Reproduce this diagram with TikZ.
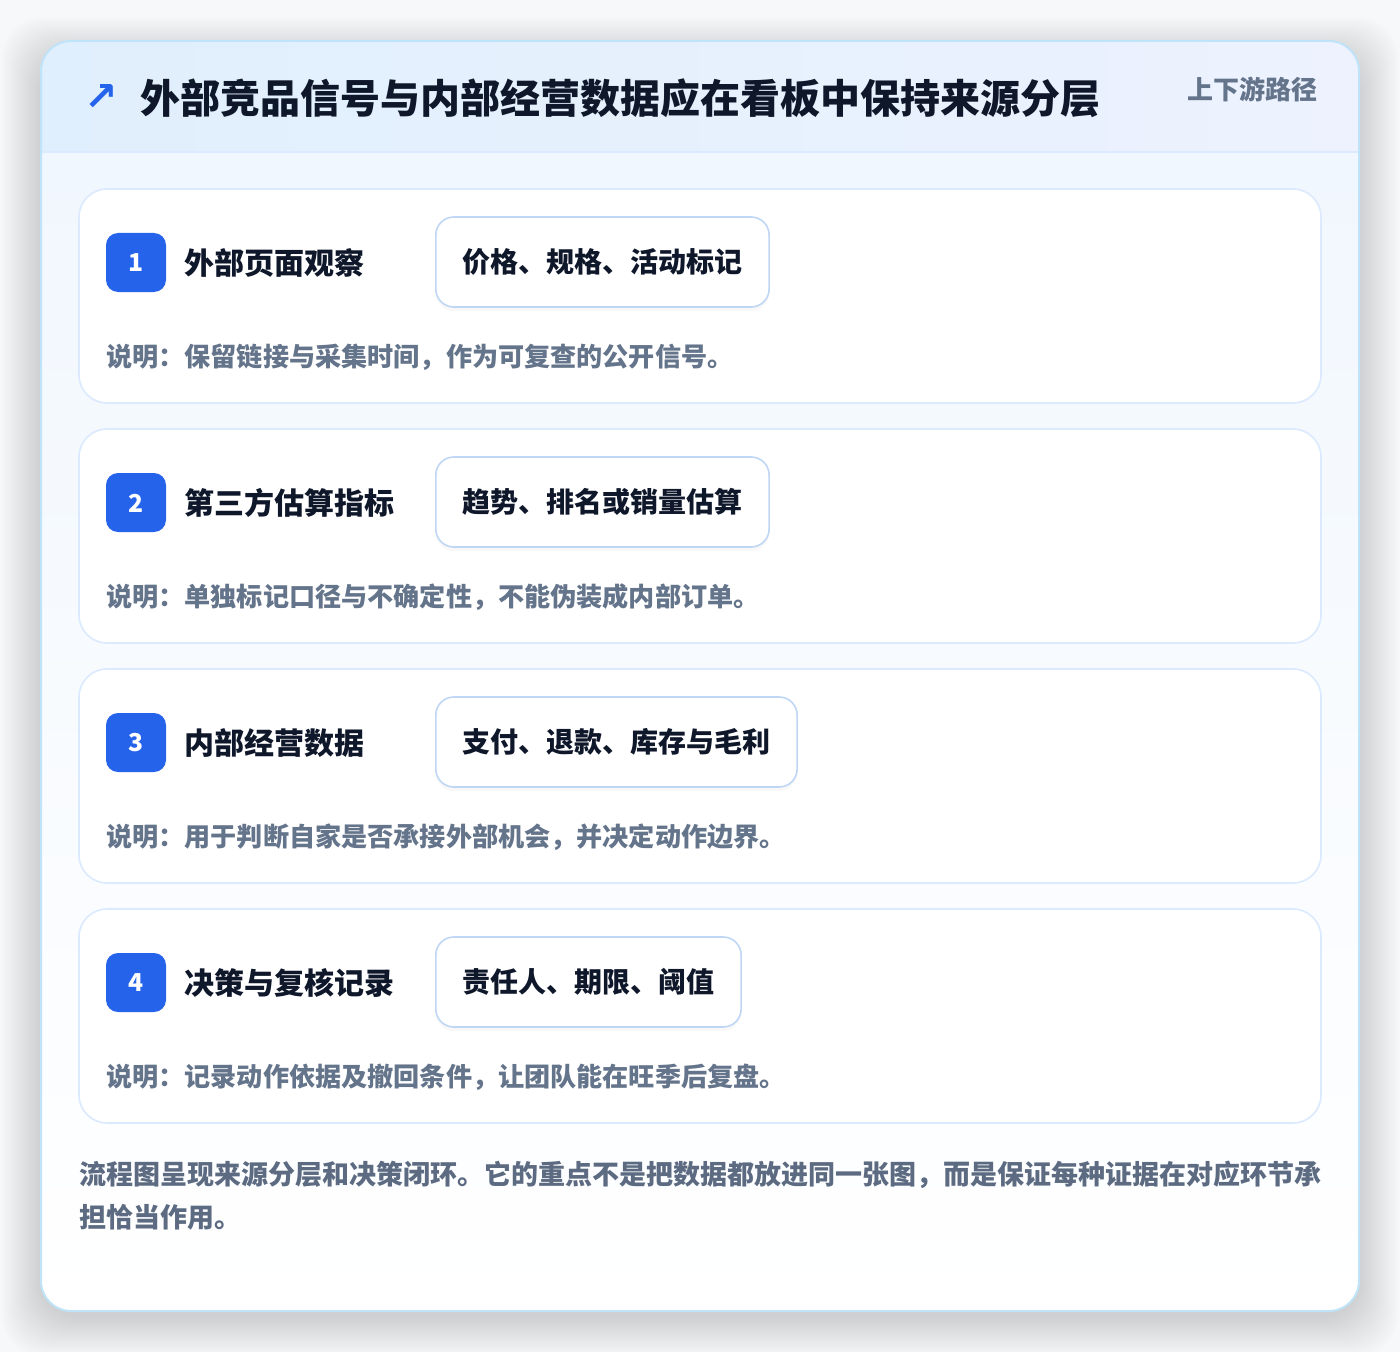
\documentclass[tikz,border=0pt]{standalone}
\usepackage{fontspec}
\setmainfont{Noto Sans CJK SC}
\newfontfamily\symfont{DejaVu Sans}
\usetikzlibrary{shadows}
\definecolor{pagebg}{HTML}{F7F8FA}
\definecolor{outerline}{HTML}{BFE3F8}
\definecolor{innerline}{HTML}{DBEAFE}
\definecolor{tagline}{HTML}{BFD7F5}
\definecolor{badgeblue}{HTML}{2563EB}
\definecolor{ink}{HTML}{0F172A}
\definecolor{muted}{HTML}{64748B}
\definecolor{hdrL}{HTML}{E0EFFD}
\definecolor{hdrR}{HTML}{EDF2FE}
\definecolor{bodytop}{HTML}{F1F7FE}
\begin{document}
\begin{tikzpicture}[x=0.75pt,y=-0.75pt,
  cardbox/.style={fill=white,draw=innerline,line width=1.2pt,rounded corners=21pt},
  badgebox/.style={fill=badgeblue,rounded corners=9pt},
  badgenum/.style={text=white,font=\fontsize{18.5pt}{20pt}\selectfont\bfseries,inner sep=0pt},
  steptitle/.style={anchor=west,text=ink,font=\fontsize{22.5pt}{26pt}\selectfont\bfseries,inner sep=0pt},
  tagbox/.style={anchor=west,draw=tagline,line width=1.2pt,fill=white,rounded corners=13.5pt,
     minimum height=67.5pt,inner xsep=20pt,text=ink,font=\fontsize{21pt}{24pt}\selectfont\bfseries,
     drop shadow={opacity=0.05,shadow xshift=0pt,shadow yshift=-3pt}},
  desctext/.style={anchor=west,text=muted,font=\fontsize{19.6pt}{22pt}\selectfont\bfseries,inner sep=0pt},
  foottext/.style={anchor=west,text=muted!90!ink,font=\fontsize{20.25pt}{24pt}\selectfont\bfseries,inner sep=0pt}
]
\fill[pagebg] (0,0) rectangle (1400,1352);
\useasboundingbox (0,0) rectangle (1400,1352);
% soft shadow of outer card
\foreach \i in {1,...,40}{
  \fill[black,opacity=0.0035,rounded corners=30pt] (41-\i,41-\i+16) rectangle (1359+\i,1311+\i+6);
}
% outer card
\fill[white,rounded corners=22.5pt] (41,41) rectangle (1359,1311);
\begin{scope}
  \clip[rounded corners=22.5pt] (41,41) rectangle (1359,1311);
  \shade[top color=bodytop,bottom color=white] (41,152) rectangle (1359,1311);
  \shade[left color=hdrL,right color=hdrR] (41,41) rectangle (1359,152);
\end{scope}
\draw[innerline,line width=1pt] (41,152) -- (1359,152);
\draw[outerline,line width=1.5pt,rounded corners=22.5pt] (41,41) rectangle (1359,1311);
% header
\node[text=badgeblue,font=\fontsize{30pt}{32pt}\selectfont\symfont\bfseries,inner sep=0pt] (icon) at (101,98) {↗};
\node[anchor=west,text=ink,font=\fontsize{30pt}{36pt}\selectfont\bfseries,inner sep=0pt] (title) at (140,98) {外部竞品信号与内部经营数据应在看板中保持来源分层};
\node[anchor=east,text=muted,font=\fontsize{19.5pt}{22pt}\selectfont\bfseries,inner sep=0pt] (badge) at (1318,89) {上下游路径};
% steps
\foreach \n/\t/\g/\d [count=\k from 0] in {
  1/外部页面观察/价格、规格、活动标记/说明：保留链接与采集时间，作为可复查的公开信号。,
  2/第三方估算指标/趋势、排名或销量估算/说明：单独标记口径与不确定性，不能伪装成内部订单。,
  3/内部经营数据/支付、退款、库存与毛利/说明：用于判断自家是否承接外部机会，并决定动作边界。,
  4/决策与复核记录/责任人、期限、阈值/说明：记录动作依据及撤回条件，让团队能在旺季后复盘。}{
  \pgfmathsetmacro{\o}{240*\k}
  \draw[cardbox] (79,189+\o) rectangle (1321,403+\o);
  \fill[badgebox] (106,233+\o) rectangle (166,292+\o);
  \node[badgenum] (num\n) at (136,263+\o) {\n};
  \node[steptitle] (st\n) at (184,263+\o) {\t};
  \node[tagbox] (tag\n) at (435,262+\o) {\g};
  \node[desctext] (desc\n) at (106,357+\o) {\d};
}
% footer
\node[foottext] (foot1) at (79,1175) {流程图呈现来源分层和决策闭环。它的重点不是把数据都放进同一张图，而是保证每种证据在对应环节承};
\node[foottext] (foot2) at (79,1217) {担恰当作用。};
\end{tikzpicture}
\end{document}
